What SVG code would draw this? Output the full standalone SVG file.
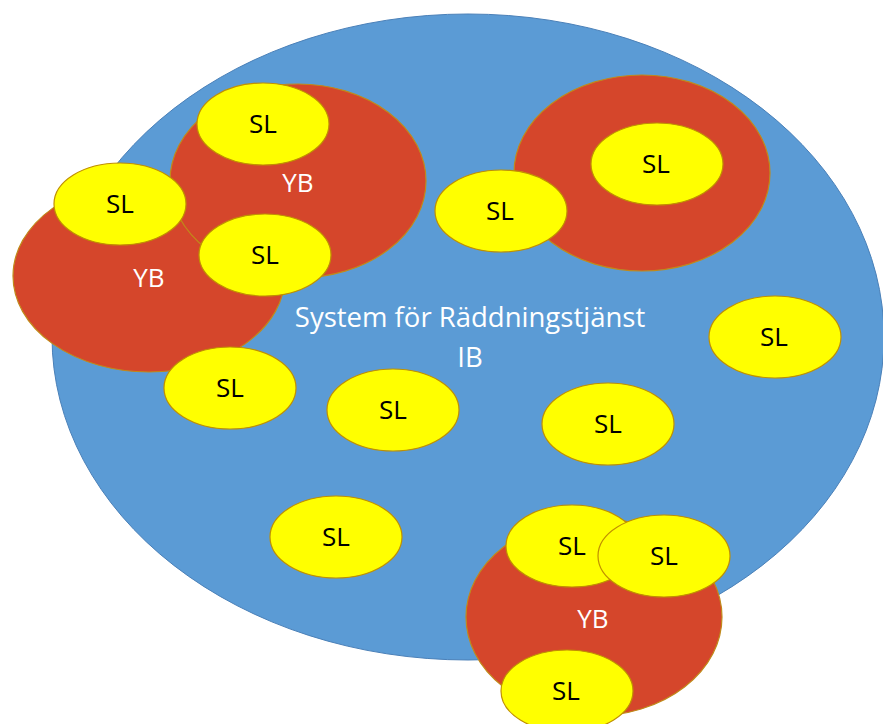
<svg xmlns="http://www.w3.org/2000/svg" width="883" height="724" viewBox="0 0 883 724">
<style>
.sys{fill:#5B9BD5;stroke:#4A80B8;stroke-width:1}
.yb{fill:#D5462B;stroke:#C08A1A;stroke-width:1.2}
.sl{fill:#FFFF00;stroke:#C09000;stroke-width:1.2}
.slt{font-family:"Open Sans","Liberation Sans",sans-serif;font-size:26px;fill:#000;text-anchor:middle}
.ybt{font-family:"Open Sans","Liberation Sans",sans-serif;font-size:26px;fill:#fff;text-anchor:middle}
.syst{font-family:"Open Sans","Liberation Sans",sans-serif;font-size:27.5px;fill:#fff;text-anchor:middle}
</style>
<rect width="883" height="724" fill="#fff"/>
<g id="system">
<ellipse class="sys" cx="468" cy="337" rx="416" ry="323"/>
<text class="syst" x="470" y="327">System för Räddningstjänst</text>
<text class="syst" x="470" y="367">IB</text>
</g>
<g id="yb-left">
<ellipse class="yb" cx="149" cy="276" rx="136" ry="96"/>
<text class="ybt" x="149" y="287">YB</text>
</g>
<g id="yb-top">
<ellipse class="yb" cx="298" cy="181" rx="128" ry="97"/>
<text class="ybt" x="298" y="192">YB</text>
</g>
<g id="yb-right">
<ellipse class="yb" cx="642" cy="173" rx="128" ry="98"/>
</g>
<g id="yb-bottom">
<ellipse class="yb" cx="594" cy="617" rx="128" ry="99"/>
<text class="ybt" x="593" y="628">YB</text>
</g>
<g id="sl-1"><ellipse class="sl" cx="263" cy="124" rx="66" ry="41"/><text class="slt" x="263" y="133">SL</text></g>
<g id="sl-2"><ellipse class="sl" cx="120" cy="204" rx="66" ry="41"/><text class="slt" x="120" y="213">SL</text></g>
<g id="sl-3"><ellipse class="sl" cx="265" cy="255" rx="66" ry="41"/><text class="slt" x="265" y="264">SL</text></g>
<g id="sl-4"><ellipse class="sl" cx="657" cy="164" rx="66" ry="41"/><text class="slt" x="656" y="173">SL</text></g>
<g id="sl-5"><ellipse class="sl" cx="501" cy="211" rx="66" ry="41"/><text class="slt" x="500" y="220">SL</text></g>
<g id="sl-6"><ellipse class="sl" cx="775" cy="337" rx="66" ry="41"/><text class="slt" x="774" y="346">SL</text></g>
<g id="sl-7"><ellipse class="sl" cx="230" cy="388" rx="66" ry="41"/><text class="slt" x="230" y="397">SL</text></g>
<g id="sl-8"><ellipse class="sl" cx="393" cy="410" rx="66" ry="41"/><text class="slt" x="393" y="419">SL</text></g>
<g id="sl-9"><ellipse class="sl" cx="608" cy="424" rx="66" ry="41"/><text class="slt" x="608" y="433">SL</text></g>
<g id="sl-10"><ellipse class="sl" cx="336" cy="537" rx="66" ry="41"/><text class="slt" x="336" y="546">SL</text></g>
<g id="sl-11"><ellipse class="sl" cx="572" cy="546" rx="66" ry="41"/><text class="slt" x="572" y="555">SL</text></g>
<g id="sl-12"><ellipse class="sl" cx="664" cy="556" rx="66" ry="41"/><text class="slt" x="664" y="565">SL</text></g>
<g id="sl-13"><ellipse class="sl" cx="567" cy="691" rx="66" ry="41"/><text class="slt" x="566" y="700">SL</text></g>
<g id="connectors"/>
</svg>
